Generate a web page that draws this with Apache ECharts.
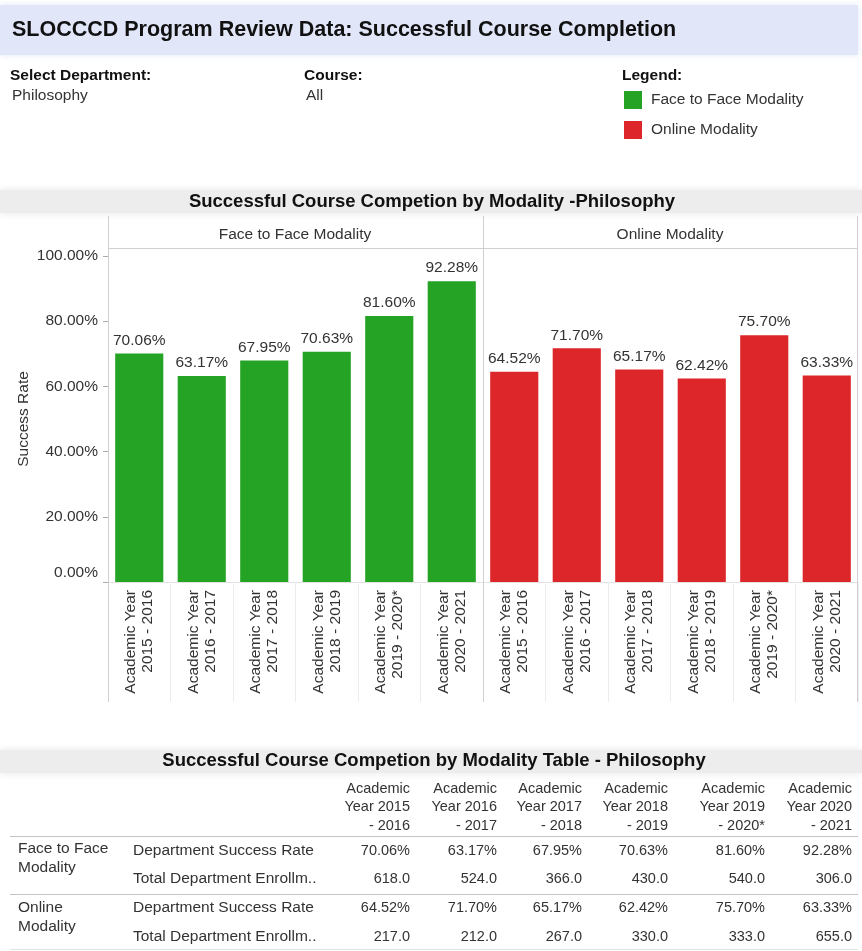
<!DOCTYPE html>
<html>
<head>
<meta charset="utf-8">
<title>SLOCCCD Program Review Data: Successful Course Completion</title>
<script src="https://cdn.jsdelivr.net/npm/echarts@6/dist/echarts.min.js"></script>
<style>
  html, body { margin: 0; padding: 0; background: #fff; }
  #chart { width: 862px; height: 951px; }
</style>
</head>
<body>
<div id="chart"></div>
<script>
// data
const years = ['2015 - 2016', '2016 - 2017', '2017 - 2018', '2018 - 2019', '2019 - 2020*', '2020 - 2021'];
const faceRate = [70.06, 63.17, 67.95, 70.63, 81.60, 92.28];
const onlineRate = [64.52, 71.70, 65.17, 62.42, 75.70, 63.33];
const faceEnroll = [618, 524, 366, 430, 540, 306];
const onlineEnroll = [217, 212, 267, 330, 333, 655];
const modalities = ['Face to Face Modality', 'Online Modality'];
const measures = ['Department Success Rate', 'Total Department Enrollm..'];

const FONT = '"Liberation Sans", Arial, sans-serif';
const FS = 15.5; // most of the dashboard text
const GREEN = '#25a325';
const RED = '#dd2629';
const categories = years.map(y => 'Academic Year\n' + y);

const chart = echarts.init(document.getElementById('chart'));

function txt(text, x, y, opts) {
  opts = opts || {};
  return {
    type: 'text', x: x, y: y, z: 10,
    style: {
      text: text,
      fill: opts.color || '#333',
      font: (opts.weight || 'normal') + ' ' + (opts.size || FS) + 'px ' + FONT,
      align: opts.align || 'left',
      verticalAlign: 'middle',
      lineHeight: opts.lineHeight
    }
  };
}
function hline(x1, x2, y, color) {
  return { type: 'line', z: 5, shape: { x1: x1, y1: y + 0.5, x2: x2, y2: y + 0.5 }, style: { stroke: color, lineWidth: 1 } };
}
function vline(x, y1, y2, color) {
  return { type: 'line', z: 5, shape: { x1: x + 0.5, y1: y1, x2: x + 0.5, y2: y2 }, style: { stroke: color, lineWidth: 1 } };
}

// table pieces
const colRight = [410, 497, 582, 668, 765, 852];
const TS = 14.5;
const graphics = [
  { type: 'rect', z: 1, shape: { x: 0, y: 5, width: 858, height: 50 }, style: { fill: '#e1e6f8', shadowBlur: 6, shadowColor: '#e1e6f8' } },
  { type: 'rect', z: 1, shape: { x: 0, y: 190, width: 862, height: 23 }, style: { fill: '#ededed', shadowBlur: 8, shadowColor: '#e6e6e6' } },
  { type: 'rect', z: 1, shape: { x: 0, y: 750, width: 862, height: 23 }, style: { fill: '#ededed', shadowBlur: 8, shadowColor: '#e6e6e6' } },
  txt('SLOCCCD Program Review Data: Successful Course Completion', 12, 30, { size: 21.5, weight: 'bold', color: '#111' }),
  txt('Select Department:', 10, 76, { weight: 'bold', color: '#111' }),
  txt('Philosophy', 12, 96),
  txt('Course:', 304, 76, { weight: 'bold', color: '#111' }),
  txt('All', 306, 96),
  txt('Legend:', 622, 76, { weight: 'bold', color: '#111' }),
  txt('Successful Course Competion by Modality -Philosophy', 432, 202, { size: 18.5, weight: 'bold', color: '#111', align: 'center' }),
  txt(modalities[0], 295, 235, { align: 'center' }),
  txt(modalities[1], 670, 235, { align: 'center' }),
  vline(108, 216, 702, '#d0d0d0'),
  vline(483, 216, 702, '#d0d0d0'),
  vline(857, 216, 702, '#d0d0d0'),
  hline(108, 858, 248, '#cfcfcf'),
  txt('Successful Course Competion by Modality Table - Philosophy', 434, 761, { size: 18.5, weight: 'bold', color: '#111', align: 'center' }),
  hline(10, 858, 836, '#c4c4c4'),
  hline(10, 858, 894, '#c4c4c4'),
  hline(10, 858, 949, '#e4e4e4')
];
years.forEach((y, i) => {
  const p = y.split(' - ');
  graphics.push(txt('Academic\nYear ' + p[0] + '\n- ' + p[1], colRight[i], 807, { align: 'right', lineHeight: 18.5, size: TS }));
});
const rows = [
  { group: 'Face to Face\nModality', gy: 858, rate: faceRate, enroll: faceEnroll, y: [851, 879] },
  { group: 'Online\nModality', gy: 917, rate: onlineRate, enroll: onlineEnroll, y: [908, 937] }
];
rows.forEach(r => {
  graphics.push(txt(r.group, 18, r.gy, { lineHeight: 19 }));
  graphics.push(txt(measures[0], 133, r.y[0]));
  graphics.push(txt(measures[1], 133, r.y[1]));
  r.rate.forEach((v, i) => graphics.push(txt(v.toFixed(2) + '%', colRight[i], r.y[0], { align: 'right', size: TS })));
  r.enroll.forEach((v, i) => graphics.push(txt(v.toFixed(1), colRight[i], r.y[1], { align: 'right', size: TS })));
});

function xAxisFor(idx) {
  return {
    type: 'category', gridIndex: idx, data: categories,
    axisLine: { show: true, lineStyle: { color: '#e2e2e2' } },
    axisTick: { show: true, length: 120, lineStyle: { color: '#ececec' } },
    axisLabel: { interval: 0, rotate: 90, margin: 8, fontSize: FS, lineHeight: 17, color: '#333', fontFamily: FONT }
  };
}
function yAxisFor(idx) {
  const first = idx === 0;
  return {
    type: 'value', gridIndex: idx, min: 0, max: 100, interval: 20,
    name: first ? 'Success Rate' : '', nameLocation: 'middle', nameGap: 76,
    nameTextStyle: { fontSize: FS, color: '#333', fontFamily: FONT },
    axisLine: { show: false },
    axisTick: { show: first, length: 5, lineStyle: { color: '#aaa' } },
    axisLabel: {
      show: first, margin: 10, fontSize: FS, color: '#333', fontFamily: FONT,
      // the bottom label sits a little above its tick, as in Tableau
      formatter: v => v === 0 ? '{low|0.00%}' : v.toFixed(2) + '%',
      rich: { low: { fontSize: FS, color: '#333', fontFamily: FONT, padding: [0, 0, 18, 0] } }
    },
    splitLine: { show: false }
  };
}
function barSeries(idx, data, color) {
  return {
    name: modalities[idx], type: 'bar', xAxisIndex: idx, yAxisIndex: idx,
    data: data, barCategoryGap: '23%',
    itemStyle: { color: color },
    label: { show: true, position: 'top', distance: 5, fontSize: FS, color: '#333', fontFamily: FONT, formatter: p => p.value.toFixed(2) + '%' }
  };
}

chart.setOption({
  animation: false,
  textStyle: { fontFamily: FONT },
  legend: {
    orient: 'vertical', left: 619, top: 86, itemWidth: 18, itemHeight: 18, itemGap: 12,
    icon: 'rect', selectedMode: false,
    textStyle: { fontSize: FS, color: '#333', padding: [0, 0, 0, 4] },
    data: modalities
  },
  grid: [
    { left: 108, top: 256, width: 375, height: 326 },
    { left: 483, top: 256, width: 375, height: 326 }
  ],
  xAxis: [xAxisFor(0), xAxisFor(1)],
  yAxis: [yAxisFor(0), yAxisFor(1)],
  series: [barSeries(0, faceRate, GREEN), barSeries(1, onlineRate, RED)],
  graphic: graphics
});
</script>
</body>
</html>
